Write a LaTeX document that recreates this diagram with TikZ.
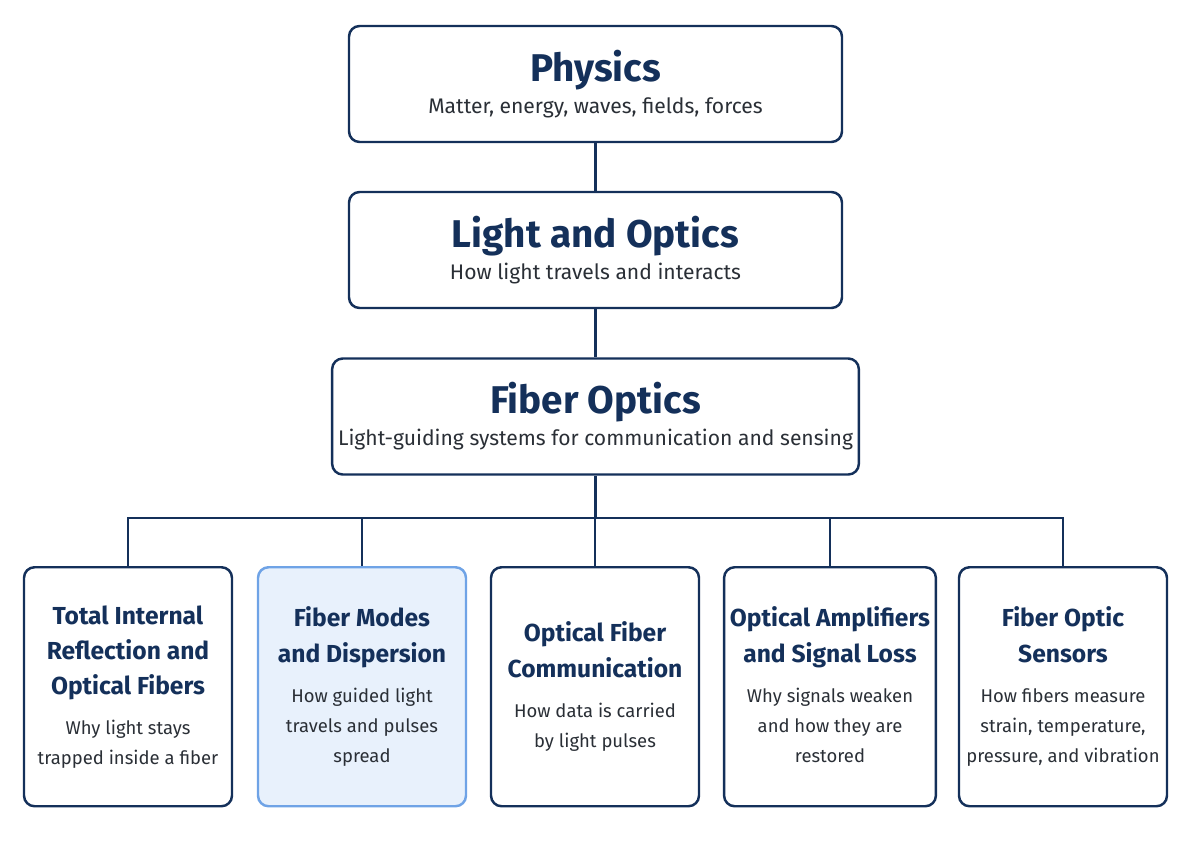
\documentclass[tikz,border=0pt]{standalone}
\usepackage{fontspec}
\setmainfont{Fira Sans}
\usetikzlibrary{positioning}
\definecolor{navy}{HTML}{14305A}
\definecolor{txt}{HTML}{2A2F36}
\definecolor{hilite}{HTML}{E8F1FC}
\definecolor{hiedge}{HTML}{6FA3E6}
\tikzset{
  topbox/.style={draw=navy, line width=1.4pt, rounded corners=6pt, fill=white,
    minimum width=9.86cm, minimum height=2.32cm, align=center},
  leafbox/.style={draw=navy, line width=1.4pt, rounded corners=6pt, fill=white,
    minimum width=4.16cm, minimum height=4.78cm, align=center, anchor=north},
  wire/.style={navy, line width=1.3pt},
}
\newcommand{\toptxt}[2]{{\fontsize{22}{26}\selectfont\bfseries\color{navy}#1}\\[3pt]{\fontsize{12}{14}\selectfont\color{txt}#2}}
\newcommand{\leaftxt}[2]{{\fontsize{14}{20}\selectfont\bfseries\color{navy}\begin{tabular}{@{}c@{}}#1\end{tabular}}\\[4pt]{\fontsize{10.5}{17}\selectfont\color{txt}\begin{tabular}{@{}c@{}}#2\end{tabular}}}
\begin{document}
\begin{tikzpicture}
	\useasboundingbox (0,0) rectangle (23.86,-16.88);
	% Cadeia principal
	\node[topbox] (phys) at (11.91,-1.68) {\toptxt{Physics}{Matter, energy, waves, fields, forces}};
	\node[topbox] (light) at (11.91,-5.00) {\toptxt{Light and Optics}{How light travels and interacts}};
	\node[topbox] (fiber) at (11.91,-8.33) {\toptxt{Fiber Optics}{Light-guiding systems for communication and sensing}};
	% Tópicos
	\node[leafbox] (tir) at (2.56,-11.32) {\leaftxt{Total Internal\\Reflection and\\Optical Fibers}{Why light stays\\trapped inside a fiber}};
	\node[leafbox, fill=hilite, draw=hiedge] (modes) at (7.24,-11.32) {\leaftxt{Fiber Modes\\and Dispersion}{How guided light\\travels and pulses\\spread}};
	\node[leafbox] (comm) at (11.90,-11.32) {\leaftxt{Optical Fiber\\Communication}{How data is carried\\by light pulses}};
	\node[leafbox] (amp) at (16.60,-11.32) {\leaftxt{Optical Amplifiers\\and Signal Loss}{Why signals weaken\\and how they are\\restored}};
	\node[leafbox] (sens) at (21.26,-11.32) {\leaftxt{Fiber Optic\\Sensors}{How fibers measure\\strain, temperature,\\pressure, and vibration}};
	% Ligações
	\draw[wire] (phys) -- (light);
	\draw[wire] (light) -- (fiber);
	\coordinate (bus) at (11.91,-10.36);
	\draw[wire] (fiber) -- (bus);
	\draw[wire] (tir.north) |- (bus) -| (sens.north);
	\foreach \n in {modes,comm,amp}
		\draw[wire] (\n.north) -- (\n.north |- bus);
\end{tikzpicture}
\end{document}
